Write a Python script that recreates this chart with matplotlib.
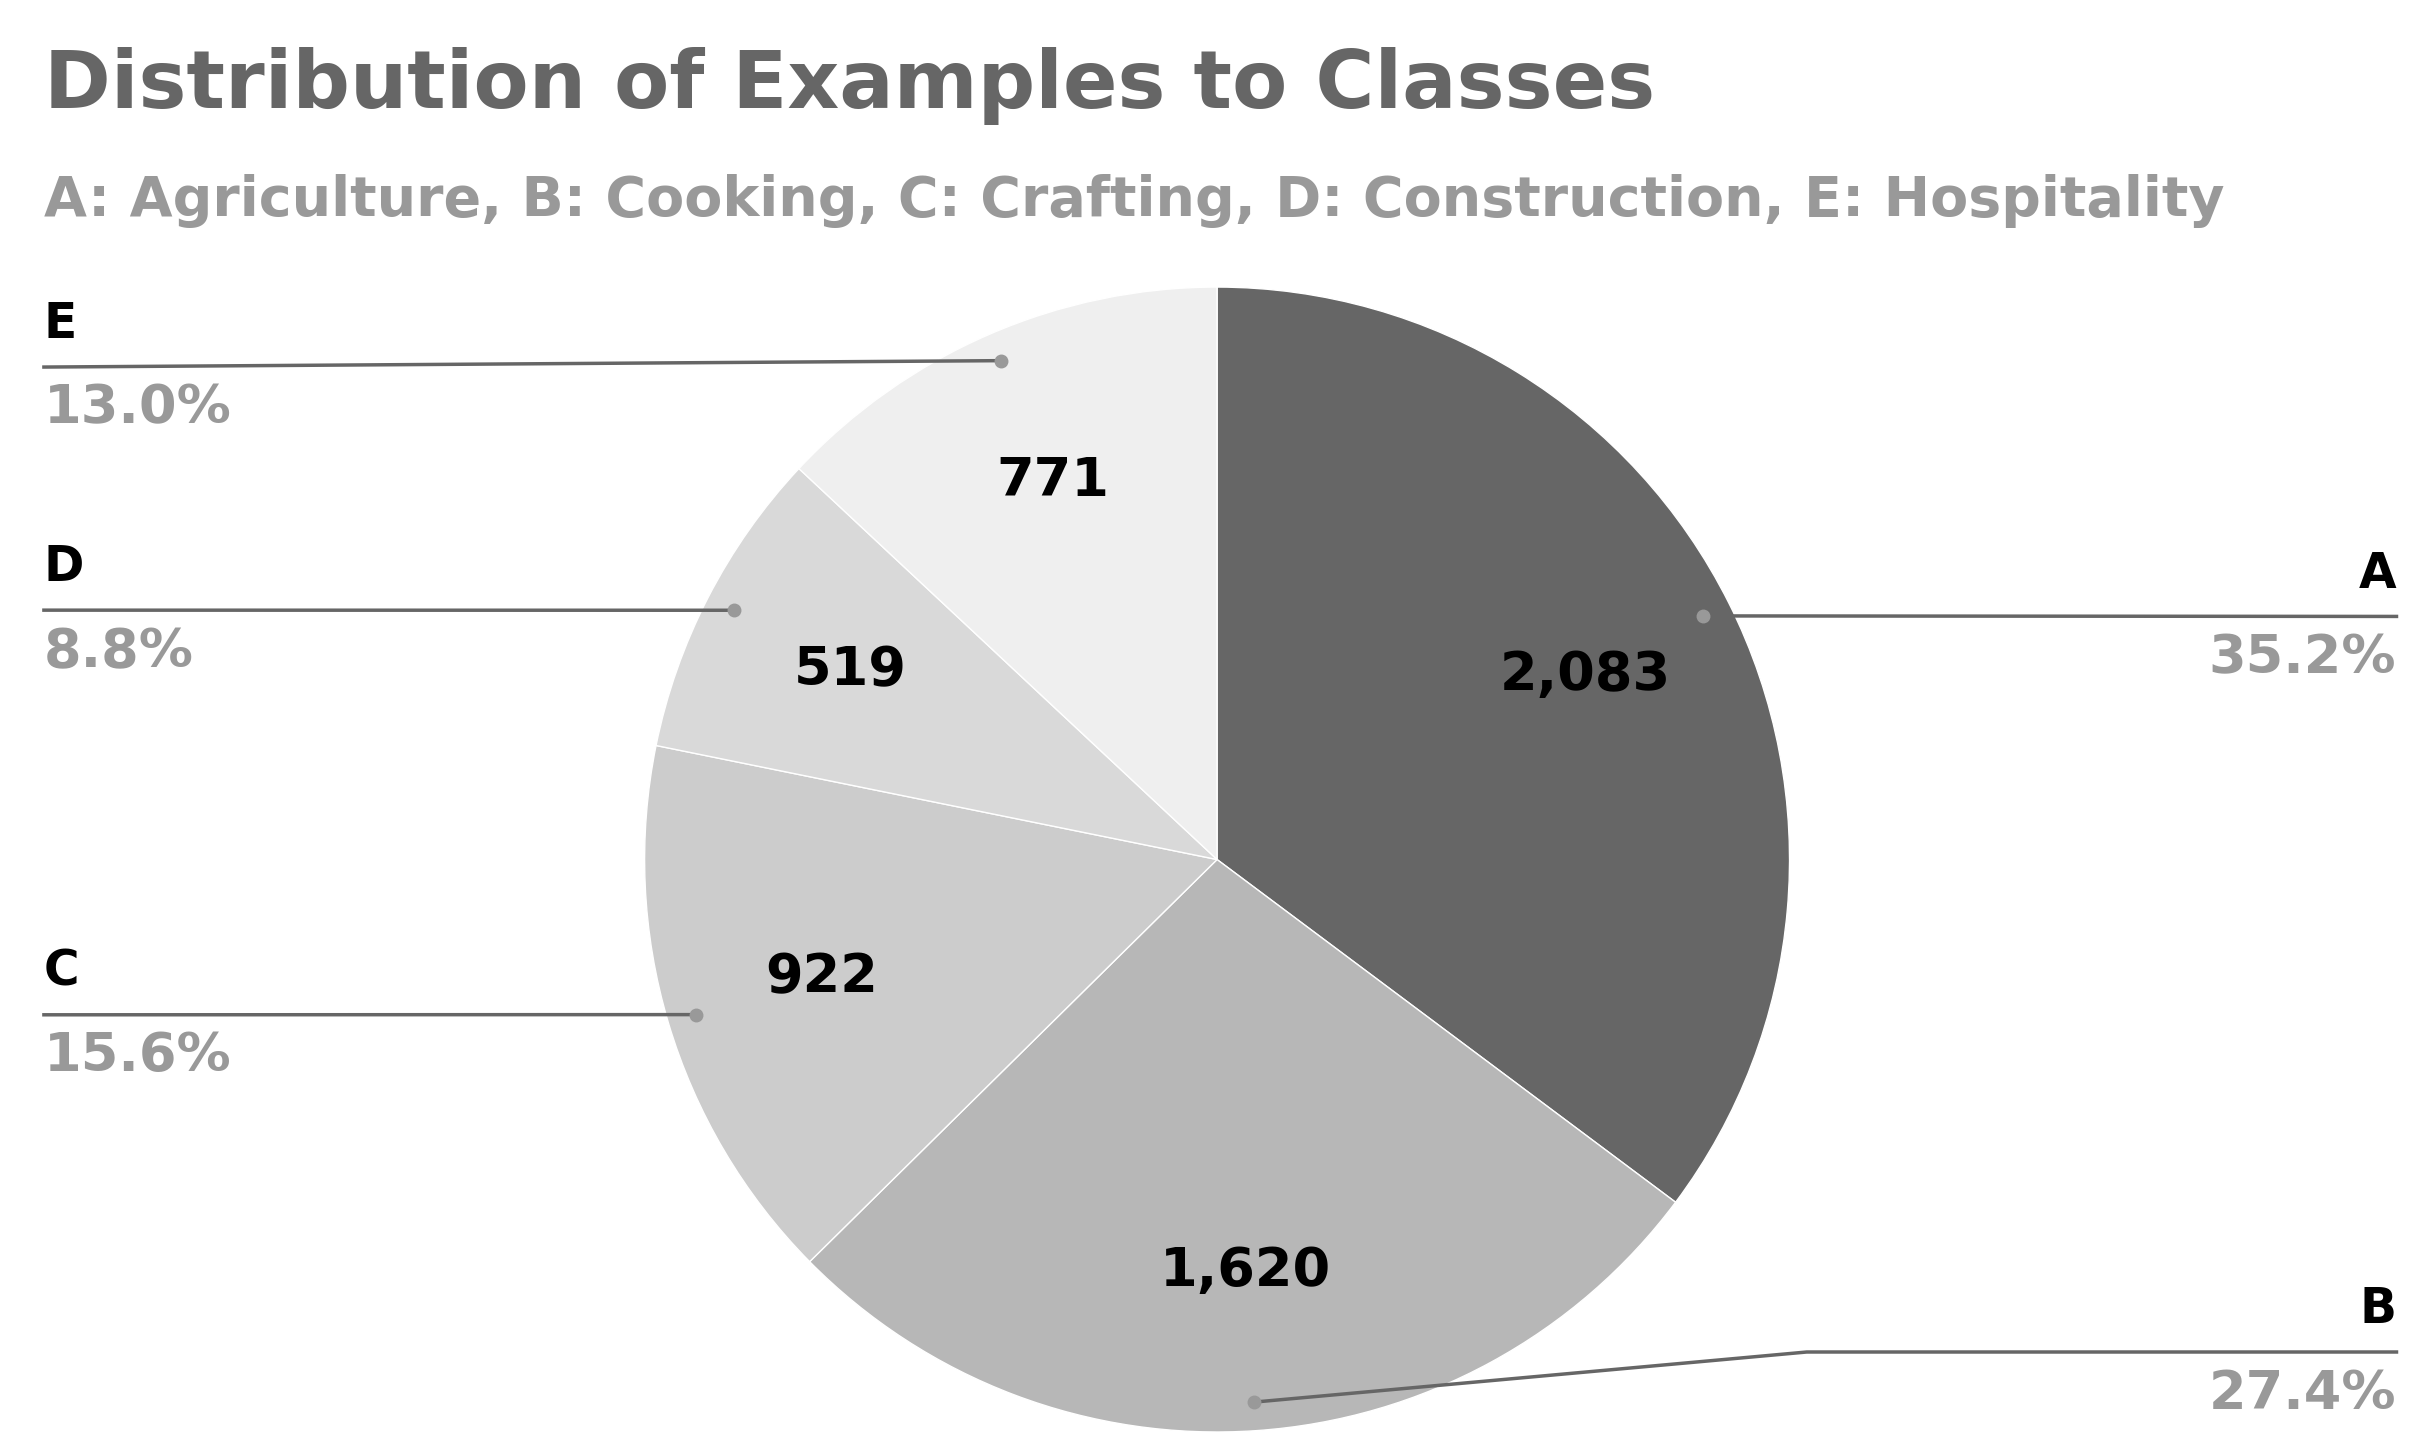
import numpy as np
import matplotlib
matplotlib.use("Agg")
import matplotlib.pyplot as plt

classes = ["A", "B", "C", "D", "E"]
counts = [2083, 1620, 922, 519, 771]
colors = ["#666666", "#b7b7b7", "#cccccc", "#d9d9d9", "#efefef"]
count_labels = ["2,083", "1,620", "922", "519", "771"]

W, H = 1550, 927
fig = plt.figure(figsize=(24.31, 14.54), dpi=100)
ax = fig.add_axes([0, 0, 1, 1])

cx, cy, r = 776, H - 548, 365
ax.pie(counts, colors=colors, startangle=90, counterclock=False,
       center=(cx, cy), radius=r, frame=True,
       wedgeprops=dict(edgecolor="white", linewidth=1))
ax.set_xlim(0, W)
ax.set_ylim(0, H)
ax.set_aspect("equal")
ax.axis("off")

total = sum(counts)
fracs = [c / total for c in counts]
start = 90.0
mids = []
for f in fracs:
    mids.append(start - f * 360 / 2)
    start -= f * 360

FONT = "DejaVu Sans"
line_col = "#666666"
pct_col = "#999999"

# leader line heights (label side: right for A, B; left for others)
side_y = {"A": H - 393, "B": H - 862, "C": H - 647, "D": H - 389, "E": H - 234}
for cls, frac, mid, lab in zip(classes, fracs, mids, count_labels):
    a = np.deg2rad(mid)
    rv = 0.72 * r
    ax.text(cx + rv * np.cos(a), cy + rv * np.sin(a), lab, ha="center", va="center",
            fontsize=39, fontweight="bold", color="black", family=FONT)
    dx, dy = cx + 0.95 * r * np.cos(a), cy + 0.95 * r * np.sin(a)
    ly = side_y[cls]
    if cls in ("A", "B"):
        xe = 1528
        if cls == "B":
            ax.plot([dx, 1152, xe], [dy, ly, ly], color=line_col, lw=2.5)
        else:
            ax.plot([dx, xe], [dy, ly], color=line_col, lw=2.5)
        ha = "right"
    else:
        xe = 28
        ax.plot([dx, xe], [dy, ly], color=line_col, lw=2.5)
        ha = "left"
    ax.plot(dx, dy, "o", color="#999999", ms=9)
    ax.text(xe, ly + 12, cls, ha=ha, va="bottom", fontsize=35, fontweight="bold",
            color="black", family=FONT)
    ax.text(xe, ly - 10, f"{frac * 100:.1f}%", ha=ha, va="top", fontsize=39,
            fontweight="bold", color=pct_col, family=FONT)

ax.text(28, H - 55, "Distribution of Examples to Classes", ha="left", va="center",
        fontsize=58, fontweight="bold", color="#666666", family=FONT)
ax.text(28, H - 128, "A: Agriculture, B: Cooking, C: Crafting, D: Construction, E: Hospitality",
        ha="left", va="center", fontsize=40, fontweight="bold", color="#999999", family=FONT)

fig.savefig("out.png", dpi=100)
